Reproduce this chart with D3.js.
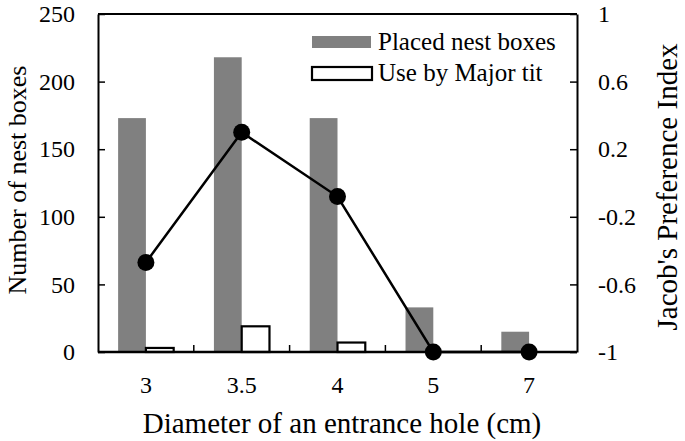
<!DOCTYPE html>
<html>
<head>
<meta charset="utf-8">
<script src="https://cdn.jsdelivr.net/npm/d3@7"></script>
<style>
  body { margin: 0; background: #fff; }
  text { font-family: "Liberation Serif", "Times New Roman", serif; fill: #000; }
</style>
</head>
<body>
<div id="chart"></div>
<script>
var width = 685,
    height = 441;

var margin = {top: 14, right: 108, bottom: 89, left: 98};

// data
var diameters = ["3", "3.5", "4", "5", "7"];
var placed = [173, 218, 173, 33, 15];
var used = [3, 19, 7, 0, 0];
var jacobs = [-0.47, 0.3, -0.08, -1, -1];
var leftTicks = [0, 50, 100, 150, 200, 250];
var rightTicks = [-1, -0.6, -0.2, 0.2, 0.6, 1];

var svg = d3.select("#chart")
    .append("svg")
    .attr("width", width)
    .attr("height", height);

var w = width - margin.left - margin.right,
    h = height - margin.top - margin.bottom;

var g = svg.append("g")
    .attr("transform", "translate(" + margin.left + "," + margin.top + ")");

var x = d3.scaleBand().domain(diameters).range([0, w]).padding(0);
var y = d3.scaleLinear().domain([0, 250]).range([h, 0]);
var y2 = d3.scaleLinear().domain([-1, 1]).range([h, 0]);

var barW = x.bandwidth() * 0.29;
var cx = function(d) { return x(d) + x.bandwidth() / 2; };

// gray bars: placed nest boxes
g.selectAll(".placed")
    .data(diameters)
    .enter().append("rect")
    .attr("x", function(d) { return cx(d) - barW; })
    .attr("y", function(d, i) { return y(placed[i]); })
    .attr("width", barW)
    .attr("height", function(d, i) { return h - y(placed[i]); })
    .attr("fill", "#808080");

// white bars: used by major tit
g.selectAll(".used")
    .data(diameters)
    .enter().filter(function(d, i) { return used[i] > 0; })
    .append("rect")
    .attr("x", function(d) { return cx(d); })
    .attr("y", function(d) { return y(used[diameters.indexOf(d)]); })
    .attr("width", barW)
    .attr("height", function(d) { return h - y(used[diameters.indexOf(d)]); })
    .attr("fill", "#fff")
    .attr("stroke", "#000")
    .attr("stroke-width", 2.2);

// axes
var left = d3.axisLeft(y).tickValues(leftTicks).tickSizeInner(-7).tickSizeOuter(0).tickPadding(23);
var right = d3.axisRight(y2).tickValues(rightTicks).tickSizeInner(-7).tickSizeOuter(0)
    .tickPadding(21).tickFormat(function(d) { return String(+d.toFixed(1)); });

var la = g.append("g").call(left);
var ra = g.append("g").attr("transform", "translate(" + w + ",0)").call(right);
[la, ra].forEach(function(a) {
  a.select(".domain").attr("stroke-width", 2);
  a.selectAll(".tick line").attr("stroke-width", 1.5);
  a.selectAll("text").style("font-size", "24px").style("font-family", "Liberation Serif");
});

// top frame
g.append("line").attr("x1", 0).attr("x2", w).attr("y1", 0).attr("y2", 0)
    .attr("stroke", "#000").attr("stroke-width", 2);

// x axis with ticks between categories
g.append("line").attr("x1", 0).attr("x2", w).attr("y1", h).attr("y2", h)
    .attr("stroke", "#000").attr("stroke-width", 2.5);
g.selectAll(".xtick")
    .data(diameters.slice(1))
    .enter().append("line")
    .attr("x1", function(d) { return x(d); })
    .attr("x2", function(d) { return x(d); })
    .attr("y1", h).attr("y2", h - 7)
    .attr("stroke", "#000").attr("stroke-width", 1.5);
g.selectAll(".xlab")
    .data(diameters)
    .enter().append("text")
    .attr("x", cx)
    .attr("y", h + 41)
    .attr("text-anchor", "middle")
    .style("font-size", "24px")
    .text(function(d) { return d; });

// Jacob's index line
var line = d3.line()
    .x(function(d, i) { return cx(diameters[i]); })
    .y(function(d) { return y2(d); });

g.append("path")
    .attr("d", line(jacobs))
    .attr("fill", "none")
    .attr("stroke", "#000")
    .attr("stroke-width", 2.5);

g.selectAll(".pt")
    .data(jacobs)
    .enter().append("circle")
    .attr("cx", function(d, i) { return cx(diameters[i]); })
    .attr("cy", function(d) { return y2(d); })
    .attr("r", 8.5)
    .attr("fill", "#000");

// axis titles
svg.append("text")
    .attr("x", 342)
    .attr("y", 433)
    .attr("text-anchor", "middle")
    .style("font-size", "29px")
    .text("Diameter of an entrance hole (cm)");

svg.append("text")
    .attr("transform", "translate(26,180) rotate(-90)")
    .attr("text-anchor", "middle")
    .style("font-size", "26px")
    .text("Number of nest boxes");

svg.append("text")
    .attr("transform", "translate(677,187) rotate(-90)")
    .attr("text-anchor", "middle")
    .style("font-size", "29px")
    .text("Jacob's Preference Index");

// legend
var legend = svg.append("g").attr("transform", "translate(312,36)");
legend.append("rect").attr("x", 0).attr("y", 0).attr("width", 59).attr("height", 12)
    .attr("fill", "#808080");
legend.append("rect").attr("x", 0).attr("y", 31).attr("width", 60).attr("height", 13)
    .attr("fill", "#fff").attr("stroke", "#000").attr("stroke-width", 2.2);
legend.append("text").attr("x", 66).attr("y", 14).style("font-size", "25px").text("Placed nest boxes");
legend.append("text").attr("x", 66).attr("y", 45).style("font-size", "25px").text("Use by Major tit");
</script>
</body>
</html>
